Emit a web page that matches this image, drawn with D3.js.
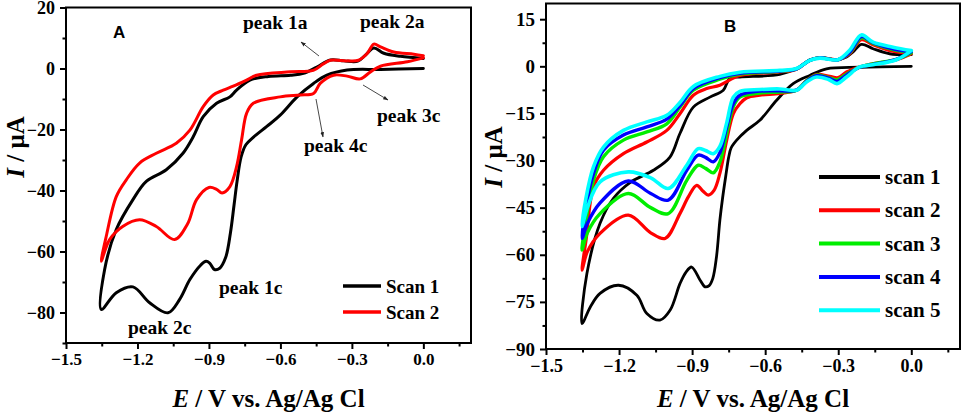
<!DOCTYPE html>
<html><head><meta charset="utf-8">
<script src="https://cdn.jsdelivr.net/npm/d3@7"></script>
<style>body{margin:0;background:#fff} svg{display:block}</style>
</head><body><svg id="c" width="963" height="413"></svg>
<script>
// ---------- DATA ----------
const xTicks = [-1.5, -1.2, -0.9, -0.6, -0.3, 0.0];
const xMinor = [-1.35, -1.05, -0.75, -0.45, -0.15, 0.15];
const aYTicks = [20, 0, -20, -40, -60, -80];
const aYMinor = [10, -10, -30, -50, -70, -90];
const bYTicks = [15, 0, -15, -30, -45, -60, -75, -90];
const bYMinor = [7.5, -7.5, -22.5, -37.5, -52.5, -67.5, -82.5];

// Panel A, scan 1 (cathodic sweep then anodic return)
const aScan1E = [0,-0.18,-0.32,-0.405,-0.461,-0.53,-0.601,-0.657,-0.713,-0.745,-0.765,-0.782,-0.795,-0.81,-0.83,-0.855,-0.877,-0.897,-0.912,-0.935,-0.98,-1.023,-1.072,-1.149,-1.219,-1.289,-1.352,
  -1.338,-1.289,-1.219,-1.163,-1.079,-1.009,-0.966,-0.924,-0.868,-0.812,-0.784,-0.728,-0.65,-0.558,-0.503,-0.447,-0.39,-0.334,-0.275,-0.243,-0.208,-0.166,-0.096,0];
const aScan1I = [0,-0.3,-0.5,-2.2,-4.9,-9.3,-15.3,-19,-22.5,-25,-29,-37,-45,-54,-62,-65.5,-65.9,-63.8,-63.2,-64.5,-69.2,-75.7,-80.1,-76.8,-71.6,-73.5,-79,
  -66,-52.8,-43,-37,-33.2,-27.8,-22.4,-15.8,-11.4,-9.3,-7.1,-3.8,-2.6,-2.2,-1.6,0.5,2.8,2.5,2.4,4.4,6.7,5.0,4.0,3.3];
// Panel A, scan 2
const aScan2E = [0,-0.067,-0.18,-0.222,-0.265,-0.32,-0.377,-0.433,-0.461,-0.517,-0.601,-0.714,-0.742,-0.763,-0.784,-0.812,-0.845,-0.868,-0.9,-0.952,-0.99,-1.044,-1.121,-1.191,-1.262,-1.317,-1.352,
  -1.331,-1.289,-1.247,-1.191,-1.121,-1.037,-0.98,-0.924,-0.882,-0.84,-0.798,-0.742,-0.7,-0.558,-0.462,-0.42,-0.39,-0.32,-0.272,-0.236,-0.208,-0.18,-0.124,-0.04,0];
const aScan2I = [3.5,2.2,0.75,-1.1,-3.4,-2.5,-2.2,-4.9,-8.2,-8.7,-9.3,-11.4,-14.7,-23.4,-32.2,-38.7,-40.8,-39.6,-39.0,-43,-51,-56.1,-51.8,-49.6,-51.8,-56.1,-63.2,
  -55,-42,-36.5,-31,-27.8,-24.5,-20.2,-12.5,-8.7,-7.1,-5.8,-3.8,-2.2,-1.1,-0.6,1.5,2.7,2.5,2.7,4.9,8.0,7.1,5.4,4.7,4.2];

// Panel B, scans 1-5
const bScan1E = [0,-0.212,-0.348,-0.417,-0.485,-0.553,-0.622,-0.676,-0.717,-0.74,-0.75,-0.762,-0.775,-0.786,-0.8,-0.815,-0.83,-0.847,-0.867,-0.902,-0.925,-0.95,-0.99,-1.032,-1.086,-1.127,-1.202,-1.278,-1.318,-1.352,
  -1.332,-1.278,-1.223,-1.155,-1.059,-0.991,-0.95,-0.895,-0.827,-0.772,-0.745,-0.704,-0.54,-0.471,-0.417,-0.376,-0.307,-0.266,-0.239,-0.205,-0.157,-0.089,0];
const bScan1I = [0,-0.3,-0.8,-2.9,-5.5,-10.8,-17.2,-20.4,-23.5,-26,-29,-35,-42,-49,-60.7,-67.5,-69.8,-70.2,-68.1,-63.9,-65.5,-69.2,-77.6,-80.8,-78.7,-72.9,-69.7,-72.3,-76.6,-81.9,
  -66,-50,-42,-37,-33.1,-28.9,-21.4,-13,-9.8,-7.6,-3.8,-3.4,-2.6,-0.7,2.1,2.8,2.1,3.0,4.6,7.0,5.6,4.0,3.7];
const bScan2E = [0,-0.061,-0.157,-0.212,-0.266,-0.3,-0.335,-0.389,-0.43,-0.471,-0.54,-0.622,-0.675,-0.704,-0.731,-0.758,-0.786,-0.81,-0.834,-0.855,-0.881,-0.915,-0.95,-1.011,-1.07,-1.162,-1.278,-1.33,-1.352,
  -1.335,-1.305,-1.264,-1.182,-1.086,-1.004,-0.95,-0.895,-0.84,-0.786,-0.704,-0.54,-0.471,-0.417,-0.376,-0.301,-0.253,-0.205,-0.157,-0.075,0];
const bScan2I = [4.0,2.1,0.8,-0.2,-1.8,-3.6,-3.2,-2.6,-4.5,-7.6,-8.6,-9.2,-10.0,-11.9,-15.1,-23.5,-34.1,-39.5,-41,-39.8,-37.9,-41.5,-46.9,-54.8,-53,-47.4,-53.2,-59,-64.9,
  -55,-38.4,-33.1,-27.8,-24.1,-20.4,-15.1,-9.2,-7.1,-6.0,-2.9,-1.8,-0.9,1.9,2.8,2.1,4.0,8.5,6.9,4.8,4.0];
const bScan3E = [0,-0.061,-0.157,-0.212,-0.266,-0.305,-0.34,-0.389,-0.43,-0.471,-0.54,-0.622,-0.704,-0.731,-0.758,-0.786,-0.813,-0.845,-0.875,-0.922,-0.998,-1.07,-1.162,-1.278,-1.33,-1.352,
  -1.336,-1.305,-1.264,-1.182,-1.086,-1.004,-0.95,-0.895,-0.786,-0.704,-0.54,-0.471,-0.417,-0.376,-0.301,-0.253,-0.205,-0.157,-0.075,0];
const bScan3I = [4.3,2.2,0.8,-0.3,-2.5,-4.3,-3.6,-2.8,-4.6,-7.6,-8.2,-8.5,-9.8,-12.9,-21.4,-30.5,-33.9,-32.5,-31.5,-36.3,-46.9,-45,-40.5,-46.9,-53,-58.5,
  -49,-36.3,-28.8,-23.5,-20.9,-18.3,-13,-7.6,-4.1,-2.5,-1.6,-0.8,1.9,2.7,2.1,4.3,9.1,7.3,5.3,4.3];
const bScan4E = [0,-0.061,-0.157,-0.212,-0.266,-0.305,-0.34,-0.389,-0.43,-0.471,-0.54,-0.622,-0.704,-0.731,-0.758,-0.786,-0.813,-0.845,-0.875,-0.922,-0.998,-1.07,-1.162,-1.278,-1.33,-1.352,
  -1.336,-1.305,-1.264,-1.182,-1.086,-1.004,-0.95,-0.895,-0.786,-0.704,-0.54,-0.471,-0.417,-0.376,-0.301,-0.253,-0.205,-0.157,-0.075,0];
const bScan4I = [4.7,2.2,0.6,-0.3,-2.8,-4.8,-3.8,-3.0,-4.8,-7.6,-7.8,-7.9,-9.2,-11.9,-19.3,-27.5,-30.4,-29.0,-28.3,-33.1,-42.6,-40.5,-36.5,-43.5,-50,-54.8,
  -45,-34.1,-26.7,-21.9,-19.3,-16.8,-12.5,-7.1,-3.6,-2.2,-1.5,-0.8,1.9,2.7,2.1,4.5,9.5,7.5,5.6,4.7];
const bScan5E = [0,-0.061,-0.157,-0.212,-0.266,-0.305,-0.34,-0.389,-0.43,-0.471,-0.54,-0.622,-0.704,-0.731,-0.758,-0.786,-0.813,-0.845,-0.875,-0.922,-0.998,-1.07,-1.162,-1.278,-1.33,-1.352,
  -1.336,-1.305,-1.264,-1.182,-1.086,-1.004,-0.95,-0.895,-0.786,-0.704,-0.54,-0.471,-0.417,-0.376,-0.301,-0.253,-0.205,-0.157,-0.075,0];
const bScan5I = [5.0,2.1,0.5,-0.2,-3.4,-5.5,-4.2,-3.4,-5.0,-7.6,-7.2,-7.4,-8.0,-9.8,-18.0,-25.5,-27.8,-26.8,-26.2,-31.5,-38.9,-35.5,-33.6,-36.8,-45,-51,
  -42,-32,-25.7,-20.4,-17.7,-15.6,-11.5,-6.4,-3.2,-1.9,-1.3,-0.7,1.9,2.6,2.1,5.1,10.0,7.7,6.1,5.0];

const aLegend = ["Scan 1", "Scan 2"];
const bLegend = ["scan 1", "scan 2", "scan 3", "scan 4", "scan 5"];
const colors = ["#000000", "#ff0000", "#00ee00", "#0000ff", "#00ffff"];

// ---------- DRAW ----------
const svg = d3.select("#c");
const SERIF = "'Liberation Serif','Times New Roman',serif";
const SANS = "'Liberation Sans',Arial,sans-serif";
const fmtX = d => (d < 0 ? "\u2212" : "") + Math.abs(d).toFixed(1);
const fmtY = d => (d < 0 ? "\u2212" : "") + Math.abs(d);

function panel(o) {
  const x = d3.scaleLinear().domain([-1.5, 0.2]).range([o.left, o.right]);
  const y = d3.scaleLinear().domain([-90, 20]).range([o.bottom, o.top]);
  const g = svg.append("g");

  // curves
  const line = d3.line().x(d => x(d[0])).y(d => y(d[1])).curve(d3.curveCatmullRom.alpha(0.5));
  o.series.forEach(s => {
    const pts = s.E.map((e, i) => [e, s.I[i]]);
    g.append("path").attr("d", line(pts)).attr("fill", "none")
      .attr("stroke", s.color).attr("stroke-width", s.width)
      .attr("stroke-linejoin", "round").attr("stroke-linecap", "round");
  });

  // axes
  const xa = g.append("g").attr("transform", `translate(0,${o.bottom})`)
    .call(d3.axisBottom(x).tickValues(xTicks).tickSize(6).tickPadding(4).tickFormat(fmtX));
  const xm = g.append("g").attr("transform", `translate(0,${o.bottom})`)
    .call(d3.axisBottom(x).tickValues(xMinor).tickSize(3.5).tickFormat(""));
  const ya = g.append("g").attr("transform", `translate(${o.left},0)`)
    .call(d3.axisLeft(y).tickValues(o.yTicks).tickSize(6).tickPadding(5).tickFormat(fmtY));
  const ym = g.append("g").attr("transform", `translate(${o.left},0)`)
    .call(d3.axisLeft(y).tickValues(o.yMinor).tickSize(3.5).tickFormat(""));
  [xa, xm, ya, ym].forEach(a => {
    a.select(".domain").remove();
    a.selectAll("line").attr("stroke", "#000").attr("stroke-width", 2);
    a.selectAll("text").attr("font-family", SERIF).attr("font-weight", "bold").attr("fill", "#000");
  });
  xa.selectAll("text").attr("font-size", o.xFont);
  ya.selectAll("text").attr("font-size", o.yFont);

  // frame
  g.append("rect").attr("x", o.left).attr("y", o.top)
    .attr("width", o.right - o.left).attr("height", o.bottom - o.top)
    .attr("fill", "none").attr("stroke", "#000").attr("stroke-width", 2);

  // axis titles
  const xt = g.append("text").attr("x", (o.left + o.right) / 2).attr("y", 407)
    .attr("text-anchor", "middle").attr("font-family", SERIF).attr("font-weight", "bold")
    .attr("font-size", 25);
  xt.append("tspan").attr("font-style", "italic").text("E");
  xt.append("tspan").text(" / V vs. Ag/Ag Cl");
  const yt = g.append("text").attr("transform", `translate(${o.ytX},${o.ytY}) rotate(-90)`)
    .attr("text-anchor", "middle").attr("font-family", SERIF).attr("font-weight", "bold")
    .attr("font-size", 25);
  yt.append("tspan").attr("font-style", "italic").text("I");
  yt.append("tspan").text(" / μA");

  // panel letter
  g.append("text").attr("x", o.letterX).attr("y", o.letterY).attr("font-family", SANS)
    .attr("font-weight", "bold").attr("font-size", 17).text(o.letter);

  // legend
  o.legend.forEach((name, i) => {
    const ly = o.legY0 + i * o.legDy;
    g.append("line").attr("x1", o.legX1).attr("x2", o.legX2).attr("y1", ly).attr("y2", ly)
      .attr("stroke", colors[i]).attr("stroke-width", o.legW);
    g.append("text").attr("x", o.legX2 + 5).attr("y", ly + 7).attr("font-family", SERIF)
      .attr("font-weight", "bold").attr("font-size", o.legFont).text(name);
  });
  return {x, y, g};
}

const A = panel({
  left: 66, right: 471, top: 7.5, bottom: 343, yTicks: aYTicks, yMinor: aYMinor, xFont: 17, yFont: 18,
  series: [
    {E: aScan1E, I: aScan1I, color: colors[0], width: 3},
    {E: aScan2E, I: aScan2I, color: colors[1], width: 3}
  ],
  ytX: 24, ytY: 147, letter: "A", letterX: 113, letterY: 38,
  legend: aLegend, legY0: 286, legDy: 26, legX1: 343, legX2: 381, legFont: 19, legW: 3.5
});

const B = panel({
  left: 546, right: 960, top: 3.5, bottom: 349, yTicks: bYTicks, yMinor: bYMinor, xFont: 18, yFont: 19,
  series: [
    {E: bScan1E, I: bScan1I, color: colors[0], width: 2.8},
    {E: bScan2E, I: bScan2I, color: colors[1], width: 3.2},
    {E: bScan3E, I: bScan3I, color: colors[2], width: 3.4},
    {E: bScan4E, I: bScan4I, color: colors[3], width: 3.4},
    {E: bScan5E, I: bScan5I, color: colors[4], width: 3.6}
  ],
  ytX: 502, ytY: 157, letter: "B", letterX: 724, letterY: 32,
  legend: bLegend, legY0: 177, legDy: 33.3, legX1: 819, legX2: 880, legFont: 21, legW: 4
});

// annotations in panel A
const defs = svg.append("defs");
defs.append("marker").attr("id", "ah").attr("viewBox", "0 0 10 10").attr("refX", 9).attr("refY", 5)
  .attr("markerWidth", 6).attr("markerHeight", 6).attr("orient", "auto")
  .append("path").attr("d", "M0,1.5 L10,5 L0,8.5 Z").attr("fill", "#222");

const annText = ["peak 1a", "peak 2a", "peak 3c", "peak 4c", "peak 1c", "peak 2c"];
const annPos = [[243, 29], [360, 28], [377, 122], [304, 152], [219, 294], [128, 334]];
annText.forEach((t, i) => {
  A.g.append("text").attr("x", annPos[i][0]).attr("y", annPos[i][1]).attr("font-family", SERIF)
    .attr("font-weight", "bold").attr("font-size", 19.5).text(t);
});
const arrows = [[319, 56, 301, 42], [363, 85, 388, 100], [316, 99, 323, 137]];
arrows.forEach(a => {
  A.g.append("line").attr("x1", a[0]).attr("y1", a[1]).attr("x2", a[2]).attr("y2", a[3])
    .attr("stroke", "#333").attr("stroke-width", 0.9).attr("marker-end", "url(#ah)");
});
</script>
</body></html>
